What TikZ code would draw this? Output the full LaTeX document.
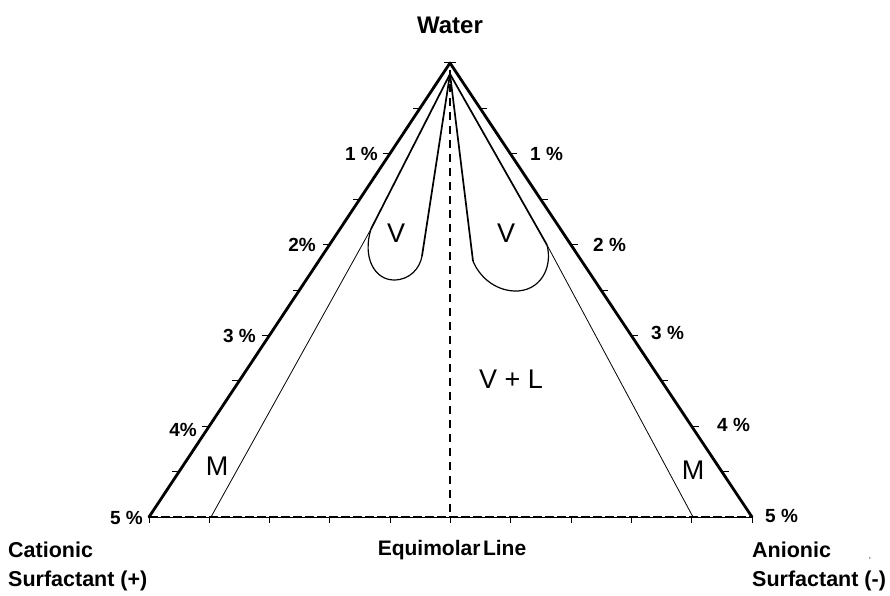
\documentclass[tikz,border=0pt]{standalone}
\usepackage{fontspec}
\setmainfont{Liberation Sans}
\begin{document}
\begin{tikzpicture}[x=1pt,y=-1pt,
  edge/.style={line width=2.8pt,line cap=round,line join=round},
  inner/.style={line width=1.7pt},
  thinl/.style={line width=0.8pt},
  loop/.style={line width=1.2pt},
  tick/.style={line width=1pt},
  blab/.style={font=\bfseries\fontsize{19}{21}\selectfont,inner sep=0pt},
  rlab/.style={font=\fontsize{27}{30}\selectfont,inner sep=0pt},
  slab/.style={font=\bfseries\fontsize{21.5}{29}\selectfont,inner sep=0pt,align=left,anchor=north west}]
\useasboundingbox (0,0) rectangle (890,596);
% corners
\coordinate (A) at (450,63);
\coordinate (B) at (149,517);
\coordinate (C) at (752,517);
\coordinate (E) at (450,517);
% outer edges
\draw[edge] (B) -- (A) -- (C);
% bottom line
\draw[line width=0.8pt] (B) -- (C);
\draw[line width=2.4pt,dash pattern=on 9pt off 3pt] (B) -- (C);
\foreach \i in {0,...,10} {
  \draw[tick] ({149+\i*60.3},517) -- ++(0,6);
}
% apex tick
\draw[tick] (444,63) -- (456,63);
% side ticks
\foreach \i in {1,...,9} {
  \path (A) -- (B) coordinate[pos=\i/10] (l\i);
  \path (A) -- (C) coordinate[pos=\i/10] (r\i);
  \draw[tick] (l\i) -- ++(-7,0);
  \draw[tick] (r\i) -- ++(7,0);
}
% dashed equimolar line
\draw[line width=2.2pt,dash pattern=on 8pt off 6pt] (450,70) -- (E);
% inner lines
\coordinate (T) at (450,74);
\coordinate (LJ) at (371,229);
\coordinate (LF) at (211,517);
\coordinate (RJ) at (547,245);
\coordinate (RF) at (693,517);
\coordinate (LL) at (422,256);
\coordinate (RL) at (473,261);
\draw[inner] (T) -- (LJ);
\draw[thinl] (LJ) -- (LF);
\draw[inner] (T) -- (RJ);
\draw[thinl] (RJ) -- (RF);
\draw[inner] (T) -- (LL);
\draw[inner] (T) -- (RL);
% loops
\draw[loop] (LJ) .. controls (362,258) and (375,280) .. (394,280)
   .. controls (410,280) and (420,268) .. (LL);
\draw[loop] (RJ) .. controls (553,268) and (540,292) .. (514,291)
   .. controls (494,290) and (479,276) .. (RL);
% labels
\node[blab,font=\bfseries\fontsize{24}{26}\selectfont] (water) at (450,25) {Water};
\node[blab,anchor=east] (p1l) at (378,154) {1 \%};
\node[blab,anchor=east] (p2l) at (316,245) {2\%};
\node[blab,anchor=east] (p3l) at (256,336) {3 \%};
\node[blab,anchor=east] (p4l) at (197,430) {4\%};
\node[blab,anchor=east] (p5l) at (143,518) {5 \%};
\node[blab,anchor=west] (p1r) at (530,154) {1 \%};
\node[blab,anchor=west] (p2r) at (593,245) {2 \%};
\node[blab,anchor=west] (p3r) at (651,333) {3 \%};
\node[blab,anchor=west] (p4r) at (717,425) {4 \%};
\node[blab,anchor=west] (p5r) at (765,516) {5 \%};
\node[blab,font=\bfseries\fontsize{21}{23}\selectfont] (eq) at (452,550) {Equimolar\hspace{0.12em}Line};
\node[slab] (cat) at (8,542) {Cationic\\Surfactant (+)};
\node[slab] (ani) at (752,542) {Anionic\\Surfactant (-)};
\node[font=\fontsize{8}{8}\selectfont,inner sep=0pt] (mark) at (870,559) {,};
\node[rlab] (v1) at (396,233) {V};
\node[rlab] (v2) at (506,233) {V};
\node[rlab] (vl) at (511,379) {V + L};
\node[rlab] (m1) at (217,466) {M};
\node[rlab] (m2) at (693,470) {M};
\end{tikzpicture}
\end{document}
